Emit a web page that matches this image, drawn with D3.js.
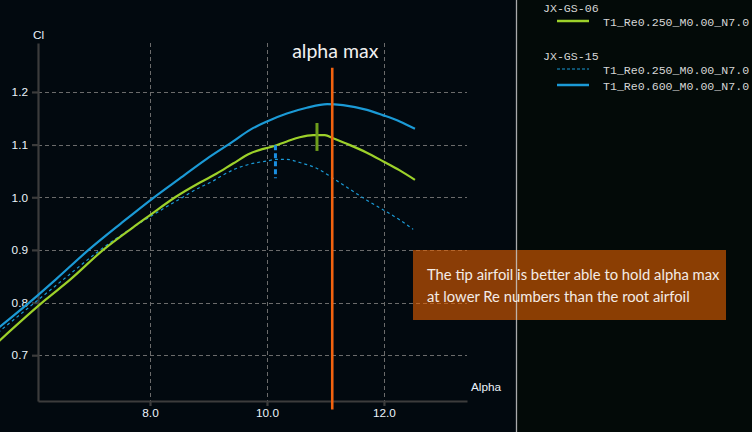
<!DOCTYPE html>
<html><head><meta charset="utf-8">
<script src="https://cdn.jsdelivr.net/npm/d3@7"></script>
<style>
html,body{margin:0;padding:0;background:#02090f;}
svg{display:block;}
</style></head>
<body>
<script>
// ---- data ----
const gs15Re600Alpha = [5.4, 6.0, 6.4, 6.95, 7.5, 8.07, 8.5, 8.97, 9.42, 9.71, 10.0, 10.34, 10.68, 11.03, 11.3, 11.71, 11.98, 12.27, 12.53];
const gs15Re600Cl    = [0.751, 0.806, 0.845, 0.900, 0.950, 1.000, 1.035, 1.073, 1.106, 1.128, 1.144, 1.159, 1.170, 1.177, 1.175, 1.166, 1.156, 1.144, 1.130];

const gs06Re250Alpha = [5.4, 6.21, 6.63, 7.2, 7.7, 8.0, 8.43, 8.855, 9.14, 9.42, 9.71, 9.88, 10.05, 10.34, 10.56, 10.79, 10.99, 11.13, 11.42, 11.70, 11.99, 12.27, 12.53];
const gs06Re250Cl    = [0.725, 0.805, 0.843, 0.900, 0.942, 0.966, 1.000, 1.028, 1.045, 1.064, 1.083, 1.090, 1.095, 1.106, 1.114, 1.118, 1.118, 1.112, 1.099, 1.085, 1.068, 1.051, 1.033];

const gs15Re250Alpha = [5.4, 6.51, 7.15, 7.6, 8.0, 8.56, 8.855, 9.03, 9.20, 9.42, 9.71, 10.0, 10.17, 10.34, 10.56, 10.85, 11.13, 11.42, 11.70, 11.99, 12.27, 12.50];
const gs15Re250Cl    = [0.743, 0.843, 0.900, 0.935, 0.963, 1.000, 1.019, 1.028, 1.039, 1.052, 1.063, 1.069, 1.072, 1.072, 1.066, 1.055, 1.036, 1.015, 0.995, 0.976, 0.957, 0.939];

const yTicks = [0.7, 0.8, 0.9, 1.0, 1.1, 1.2];
const xTicks = [8, 10, 12];

// markers (alpha, clLow, clHigh)
const markerGs06 = {alpha: 10.855, lo: 1.088, hi: 1.141};
const markerGs15 = {alpha: 10.145, lo: 1.036, hi: 1.099};
const alphaMax = {alpha: 11.116, lo: 0.597, hi: 1.246};

const legendGroups = [
  {name: "JX-GS-06", items: [{label: "T1_Re0.250_M0.00_N7.0", color: "#9dd12a", dash: null}]},
  {name: "JX-GS-15", items: [
    {label: "T1_Re0.250_M0.00_N7.0", color: "#1b9ad6", dash: "3,2"},
    {label: "T1_Re0.600_M0.00_N7.0", color: "#1b9ad6", dash: null}]}
];
const noteLines = ["The tip airfoil is better able to hold alpha max", "at lower Re numbers than the root airfoil"];

// ---- drawing ----
const W = 752, H = 432;
const svg = d3.select("body").append("svg").attr("width", W).attr("height", H);
svg.append("rect").attr("width", W).attr("height", H).attr("fill", "#02090f");

const x = d3.scaleLinear().domain([6.085, 13.42]).range([38, 467]);
const y = d3.scaleLinear().domain([0.613, 1.293]).range([401, 43]);

// grid
const grid = svg.append("g").attr("stroke", "#6b6b6b").attr("stroke-width", 1).attr("stroke-dasharray", "4,3");
grid.selectAll("line.h").data(yTicks).join("line")
  .attr("x1", x.range()[0]).attr("x2", x.range()[1])
  .attr("y1", d => Math.round(y(d)) + 0.5).attr("y2", d => Math.round(y(d)) + 0.5);
grid.selectAll("line.v").data(xTicks).join("line")
  .attr("y1", y.range()[1]).attr("y2", y.range()[0])
  .attr("x1", d => Math.round(x(d)) + 0.5).attr("x2", d => Math.round(x(d)) + 0.5);

// axes
const yAxis = svg.append("g").attr("transform", "translate(38,0)")
  .call(d3.axisLeft(y).tickValues(yTicks).tickFormat(d3.format(".1f")).tickSize(6).tickSizeOuter(0));
const xAxis = svg.append("g").attr("transform", "translate(0,401)")
  .call(d3.axisBottom(x).tickValues(xTicks).tickFormat(d3.format(".1f")).tickSize(5).tickSizeOuter(0));
[yAxis, xAxis].forEach(a => {
  a.select(".domain").attr("stroke", "#3c3c3c").attr("stroke-width", 2.2);
  a.selectAll(".tick line").attr("stroke", "#3c3c3c").attr("stroke-width", 2.2);
  a.selectAll(".tick text").attr("fill", "#eaf2fa").attr("font-family", "Liberation Sans, Arial, sans-serif").attr("font-size", 11.8);
});
yAxis.selectAll(".tick text").attr("x", -10);
xAxis.selectAll(".tick text").attr("y", 8);

svg.append("text").attr("x", 33).attr("y", 39).text("Cl")
  .attr("fill", "#eaf2fa").attr("font-family", "Liberation Sans, Arial, sans-serif").attr("font-size", 11.8);
svg.append("text").attr("x", 471).attr("y", 391).text("Alpha")
  .attr("fill", "#eaf2fa").attr("font-family", "Liberation Sans, Arial, sans-serif").attr("font-size", 11.8);

// curves
const line = d3.line().x(d => x(d[0])).y(d => y(d[1])).curve(d3.curveMonotoneX);
const zip = (a, b) => a.map((v, i) => [v, b[i]]);
svg.append("path").datum(zip(gs15Re250Alpha, gs15Re250Cl)).attr("d", line)
  .attr("fill", "none").attr("stroke", "#1b9ad6").attr("stroke-width", 1.2).attr("stroke-dasharray", "3,3");
svg.append("path").datum(zip(gs06Re250Alpha, gs06Re250Cl)).attr("d", line)
  .attr("fill", "none").attr("stroke", "#9dd12a").attr("stroke-width", 2.2);
svg.append("path").datum(zip(gs15Re600Alpha, gs15Re600Cl)).attr("d", line)
  .attr("fill", "none").attr("stroke", "#1b9ad6").attr("stroke-width", 2.2);

// markers
svg.append("line").attr("x1", x(markerGs06.alpha)).attr("x2", x(markerGs06.alpha))
  .attr("y1", y(markerGs06.hi)).attr("y2", y(markerGs06.lo)).attr("stroke", "#6f9e1c").attr("stroke-width", 3);
svg.append("line").attr("x1", x(markerGs15.alpha)).attr("x2", x(markerGs15.alpha))
  .attr("y1", y(markerGs15.hi)).attr("y2", y(markerGs15.lo)).attr("stroke", "#1a8ee0").attr("stroke-width", 3)
  .attr("stroke-dasharray", "5,3");
svg.append("line").attr("x1", x(alphaMax.alpha)).attr("x2", x(alphaMax.alpha))
  .attr("y1", y(alphaMax.hi)).attr("y2", y(alphaMax.lo)).attr("stroke", "#f2620f").attr("stroke-width", 2.6);
svg.append("text").attr("x", x(alphaMax.alpha) + 3).attr("y", 58).attr("text-anchor", "middle")
  .text("alpha max").attr("fill", "#f0f0f0").attr("font-family", "Lato, 'Open Sans', sans-serif").attr("font-size", 19.5);

// legend panel
svg.append("rect").attr("x", 517).attr("y", 0).attr("width", W - 517).attr("height", H).attr("fill", "#030a08");
const lg = svg.append("g").attr("font-family", "Liberation Mono, monospace").attr("font-size", 11.6).attr("fill", "#d6d6d6");
let ly = 12;
legendGroups.forEach(g => {
  lg.append("text").attr("x", 543).attr("y", ly).text(g.name);
  ly += 9;
  g.items.forEach(it => {
    lg.append("line").attr("x1", 557).attr("x2", 589).attr("y1", ly).attr("y2", ly)
      .attr("stroke", it.color).attr("stroke-width", it.dash ? 1 : 2.5).attr("stroke-dasharray", it.dash);
    lg.append("text").attr("x", 603).attr("y", ly + 4.5).text(it.label);
    ly += 16;
  });
  ly += 23;
});

// note box
svg.append("rect").attr("x", 413).attr("y", 250).attr("width", 313).attr("height", 70)
  .attr("fill", "#e66100").attr("fill-opacity", 0.6);
svg.append("line").attr("x1", 516.5).attr("x2", 516.5).attr("y1", 0).attr("y2", H)
  .attr("stroke", "#c8c8c8").attr("stroke-width", 1.3).attr("stroke-opacity", 0.85);
const nt = svg.append("g").attr("font-family", "Lato, 'Open Sans', sans-serif").attr("font-size", 14.8).attr("fill", "#f4ece6");
noteLines.forEach((t, i) => nt.append("text").attr("x", 427).attr("y", 280 + i * 22).text(t));
</script>
</body></html>
